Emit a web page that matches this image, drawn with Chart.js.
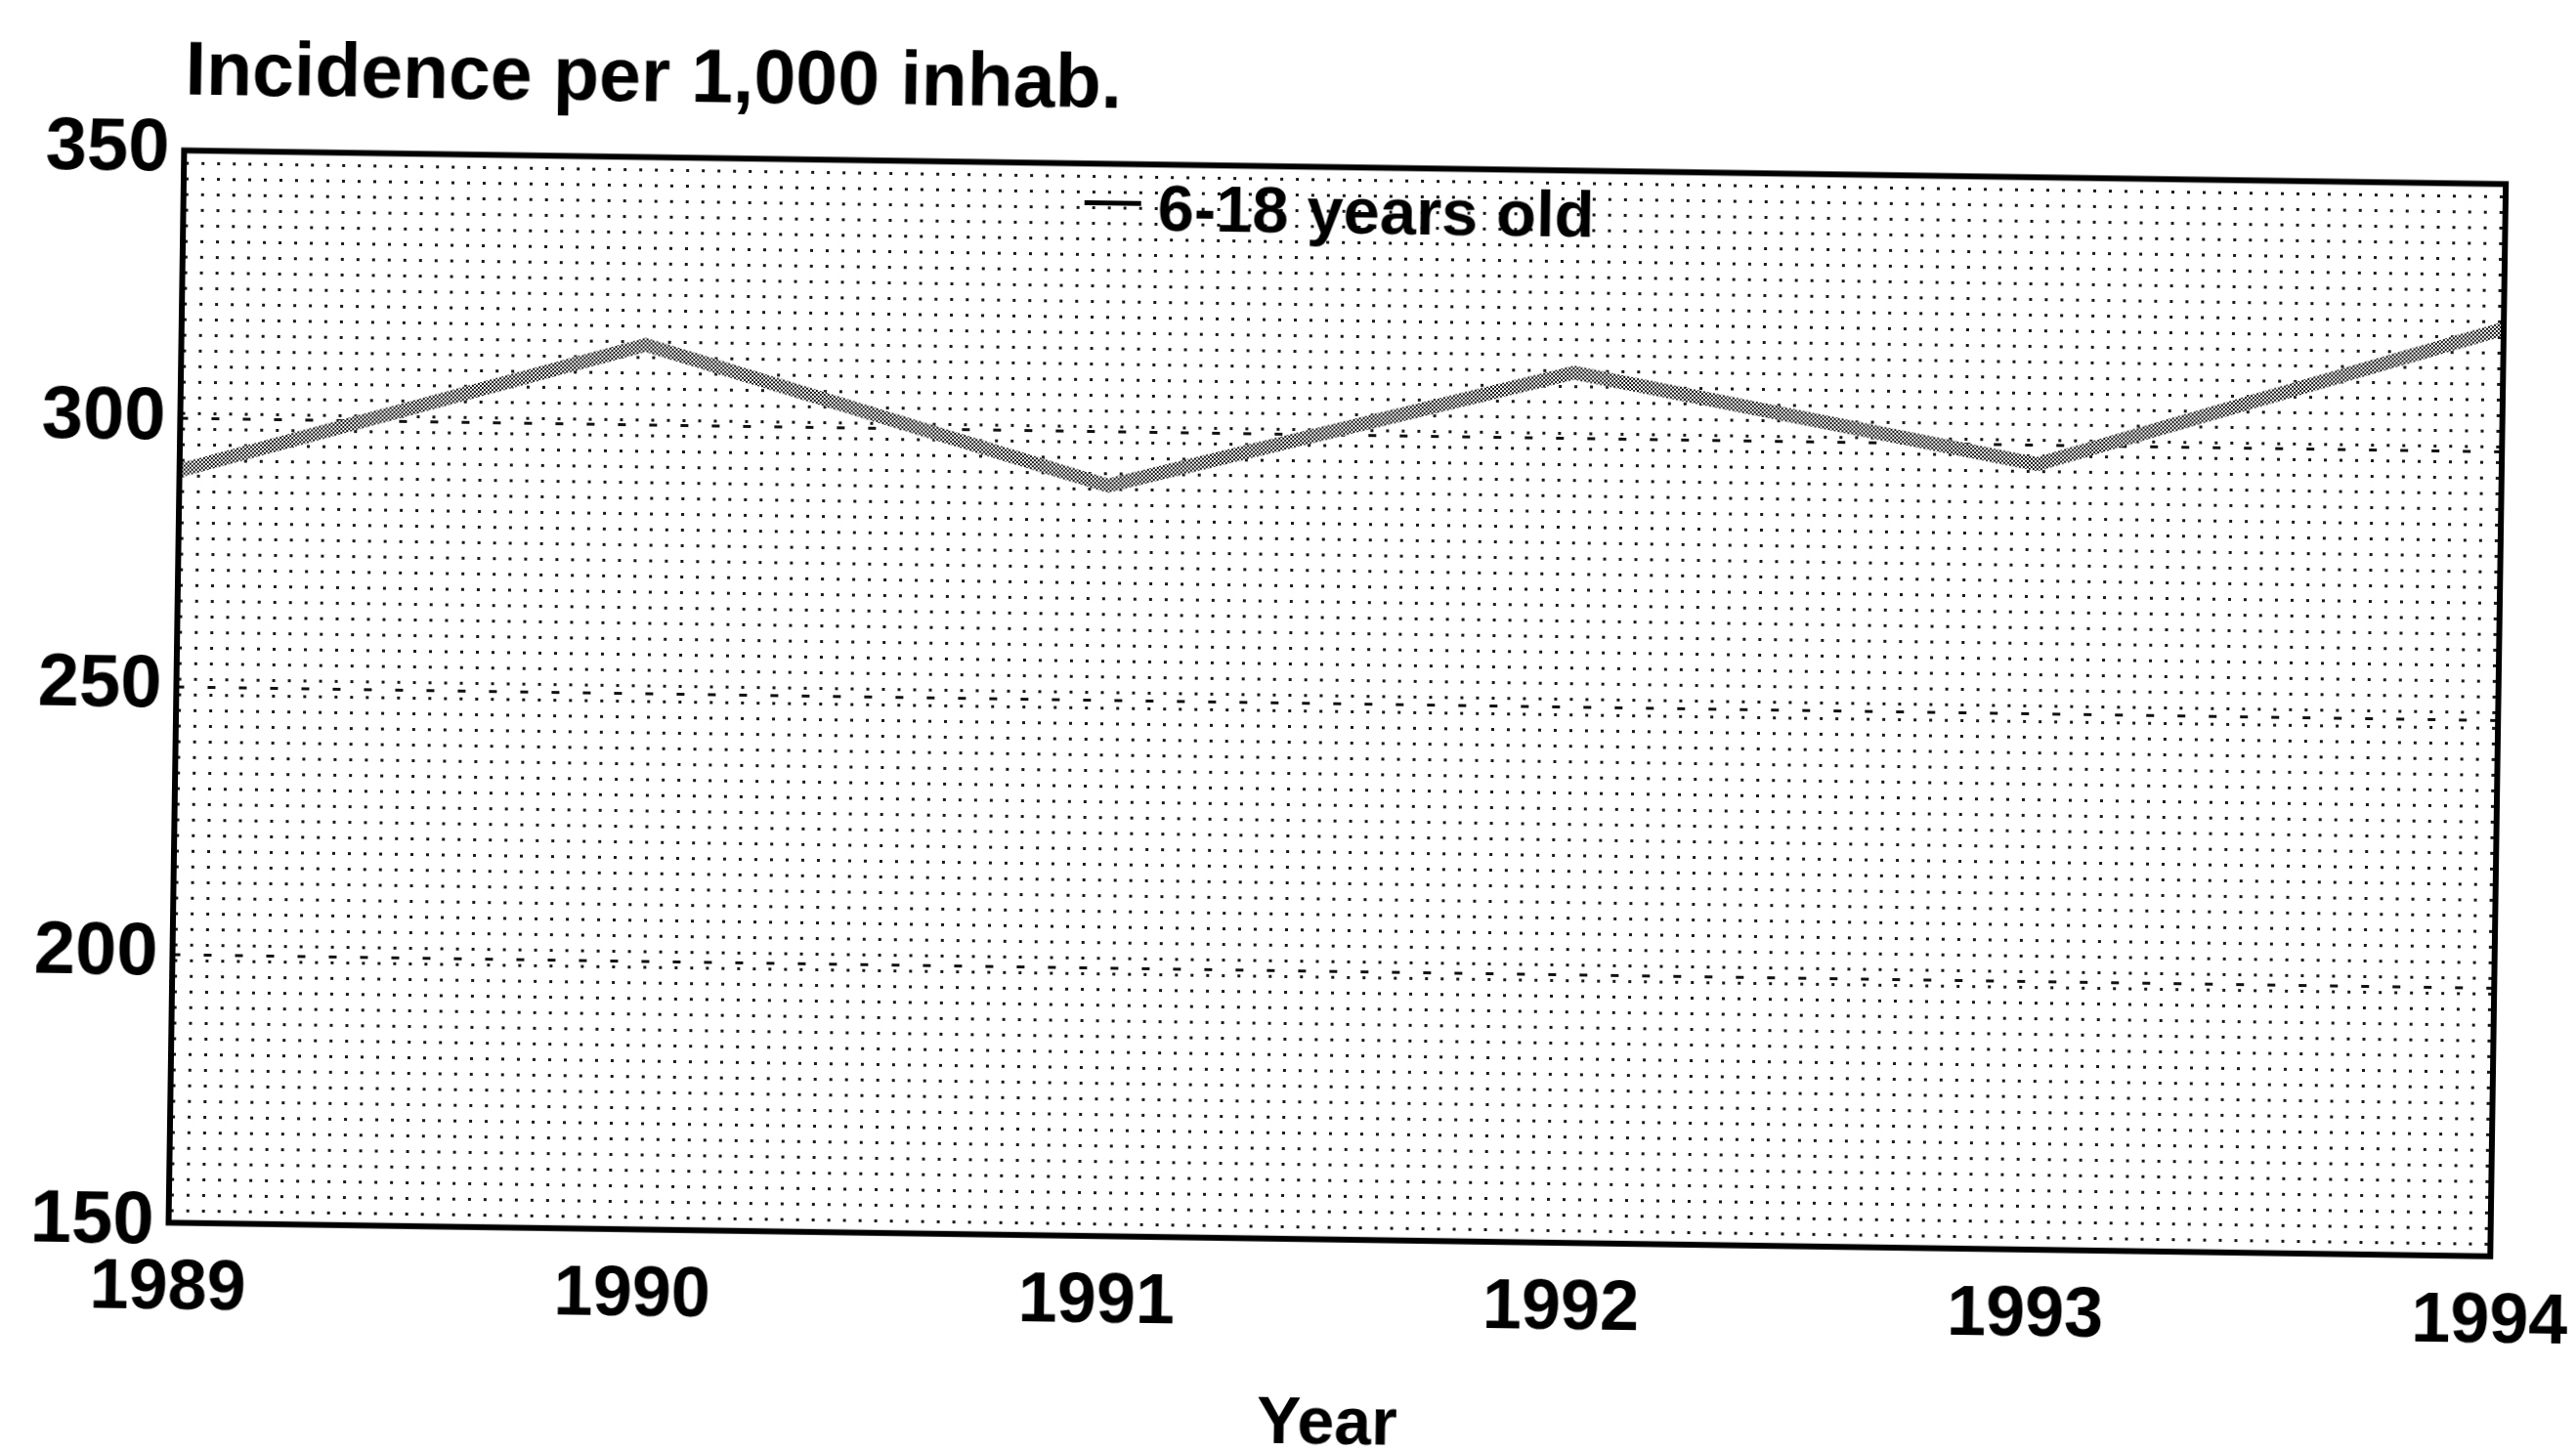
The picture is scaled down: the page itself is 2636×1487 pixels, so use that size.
<!DOCTYPE html>
<html>
<head>
<meta charset="utf-8">
<script src="https://cdn.jsdelivr.net/npm/chart.js@4"></script>
<style>
    html, body { margin: 0; padding: 0; background: #fff; overflow: hidden; }
    #chart { display: block; transform: rotate(0.83deg); transform-origin: 1318px 743px; }
</style>
</head>
<body>
<canvas id="chart" width="2636" height="1487"></canvas>
<script>
let years = ['1989', '1990', '1991', '1992', '1993', '1994'];
let incidence = [290.3, 315, 290, 312.3, 296.5, 323];
let y_ticks = [150, 200, 250, 300, 350];
let series_name = '6-18 years old';
let y_title = 'Incidence per 1,000 inhab.';
let x_title = 'Year';

let font_family = "'Liberation Sans', Arial, sans-serif";

// small tiles to imitate the printed screens
let make_tile = function(size, draw) {
    let c = document.createElement('canvas');
    c.width = size;
    c.height = size;
    let g = c.getContext('2d');
    draw(g);
    return c;
};

let dot_tile = make_tile(16, function(g) {
    g.fillStyle = '#1a1a1a';
    g.fillRect(6, 6, 3, 3);
});

let hatch_tile = make_tile(4, function(g) {
    g.fillStyle = '#ffffff';
    g.fillRect(0, 0, 4, 4);
    g.fillStyle = '#111111';
    g.fillRect(0, 0, 2, 2);
    g.fillRect(2, 2, 2, 2);
});

let ctx = document.getElementById('chart').getContext('2d');
let line_pattern = ctx.createPattern(hatch_tile, 'repeat');

let frame_plugin = {
    id: 'frame',
    beforeDraw: function(chart) {
        let a = chart.chartArea;
        let c = chart.ctx;
        c.save();
        c.fillStyle = c.createPattern(dot_tile, 'repeat');
        c.fillRect(a.left, a.top, a.right - a.left, a.bottom - a.top);
        c.restore();
    },
    afterDraw: function(chart) {
        let a = chart.chartArea;
        let c = chart.ctx;
        c.save();
        c.strokeStyle = '#000';
        c.lineWidth = 6;
        c.strokeRect(a.left, a.top, a.right - a.left, a.bottom - a.top);

        // legend sits inside the plot, near the top
        let lx = a.left + 922;
        let ly = a.top + 49;
        c.lineWidth = 5;
        c.beginPath();
        c.moveTo(lx, ly - 9);
        c.lineTo(lx + 58, ly - 9);
        c.stroke();
        c.fillStyle = '#000';
        c.font = 'bold 67px ' + font_family;
        c.textBaseline = 'middle';
        c.textAlign = 'left';
        c.fillText(chart.data.datasets[0].label, lx + 75, ly);
        c.restore();
    }
};

let chart = new Chart(ctx, {
    type: 'line',
    data: {
        labels: years,
        datasets: [{
            label: series_name,
            data: incidence,
            borderColor: line_pattern,
            backgroundColor: line_pattern,
            borderWidth: 14,
            pointRadius: 0,
            tension: 0,
            fill: false
        }]
    },
    options: {
        responsive: false,
        animation: false,
        devicePixelRatio: 1,
        layout: {
            padding: { left: 0, right: 80, top: 0, bottom: 0 }
        },
        plugins: {
            legend: { display: false },
            tooltip: { enabled: false },
            title: {
                display: true,
                text: y_title,
                align: 'start',
                fullSize: false,
                color: '#000',
                font: { family: font_family, size: 77, weight: 'bold', lineHeight: 1.2 },
                padding: { top: 46, bottom: 32 }
            }
        },
        scales: {
            x: {
                offset: false,
                afterFit: function(scale) {
                    scale.paddingLeft = 0;
                    scale.paddingRight = 0;
                },
                grid: { display: false, drawTicks: false },
                border: { display: false },
                ticks: {
                    color: '#000',
                    padding: 25,
                    maxRotation: 0,
                    autoSkip: false,
                    font: { family: font_family, size: 72, weight: 'bold', lineHeight: 1.2 }
                },
                title: {
                    display: true,
                    text: x_title,
                    color: '#000',
                    font: { family: font_family, size: 68, weight: 'bold', lineHeight: 0.85 },
                    padding: { top: 25, bottom: 0 }
                }
            },
            y: {
                min: y_ticks[0],
                max: y_ticks[y_ticks.length - 1],
                afterFit: function(scale) { scale.width = 180; },
                afterBuildTicks: function(scale) {
                    scale.ticks = y_ticks.map(v => ({ value: v }));
                },
                border: { display: false },
                grid: {
                    drawTicks: false,
                    lineWidth: 3,
                    color: function(c) {
                        let v = c.tick ? c.tick.value : null;
                        if (v === y_ticks[0] || v === y_ticks[y_ticks.length - 1]) return 'rgba(0,0,0,0)';
                        return '#111';
                    }
                },
                ticks: {
                    color: '#000',
                    padding: 15,
                    font: { family: font_family, size: 76, weight: 'bold' }
                }
            }
        }
    },
    plugins: [frame_plugin]
});

// dotted major lines
chart.options.scales.y.grid.borderDash = [8, 24];
chart.options.scales.y.border.dash = [8, 24];
chart.update();
</script>
</body>
</html>
